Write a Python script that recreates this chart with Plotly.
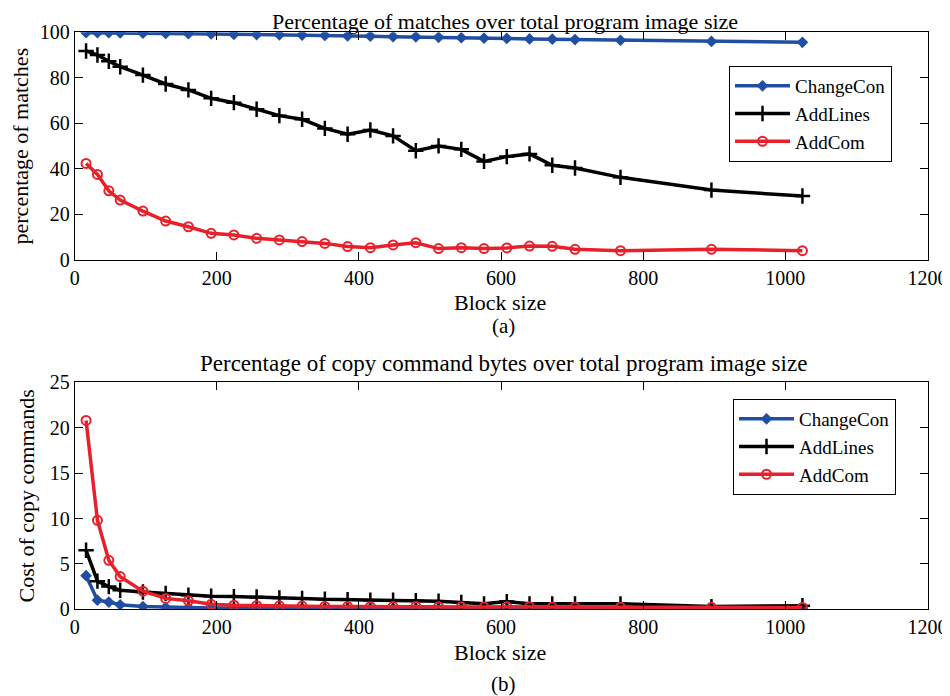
import plotly.graph_objects as go

block_sizes = [16, 32, 48, 64, 96, 128, 160, 192, 224, 256, 288, 320, 352, 384, 416,
               448, 480, 512, 544, 576, 608, 640, 672, 704, 768, 896, 1024]

# (a) Percentage of matches
changecon_match = [99.8, 99.8, 99.8, 99.7, 99.6, 99.5, 99.4, 99.3, 99.1, 99.0, 98.9, 98.8, 98.6, 98.4,
                   98.3, 98.1, 98.0, 97.8, 97.6, 97.4, 97.3, 97.1, 97.0, 96.8, 96.5, 96.0, 95.6]
addlines_match = [91.8, 90.0, 87.3, 84.9, 81.2, 77.3, 74.7, 71.0, 69.1, 66.2, 63.4, 61.8, 57.8, 55.2,
                  57.1, 54.5, 48.0, 50.1, 48.6, 43.3, 45.4, 46.6, 41.6, 40.4, 36.3, 30.7, 28.1]
addcom_match = [42.4, 37.6, 30.4, 26.3, 21.5, 17.1, 14.6, 11.7, 11.0, 9.5, 8.8, 8.1, 7.3, 5.9,
                5.4, 6.6, 7.6, 5.0, 5.4, 5.0, 5.3, 6.1, 6.0, 4.7, 4.1, 4.7, 4.1]

# (b) Cost of copy commands
changecon_cost = [3.7, 1.0, 0.8, 0.5, 0.3, 0.22, 0.18, 0.15, 0.14, 0.13, 0.12, 0.12, 0.11, 0.11,
                  0.1, 0.1, 0.1, 0.1, 0.1, 0.1, 0.1, 0.1, 0.1, 0.1, 0.1, 0.1, 0.1]
addlines_cost = [6.5, 3.1, 2.5, 2.1, 1.9, 1.75, 1.55, 1.45, 1.4, 1.35, 1.25, 1.2, 1.1, 1.05,
                 1.0, 1.0, 0.95, 0.9, 0.75, 0.6, 0.85, 0.6, 0.6, 0.6, 0.6, 0.3, 0.4]
addcom_cost = [20.8, 9.8, 5.4, 3.6, 2.0, 1.2, 0.95, 0.55, 0.45, 0.4, 0.38, 0.35, 0.32, 0.3,
               0.28, 0.3, 0.32, 0.28, 0.27, 0.25, 0.27, 0.28, 0.25, 0.24, 0.23, 0.22, 0.2]

series_names = ["ChangeCon", "AddLines", "AddCom"]
x_ticks = [0, 200, 400, 600, 800, 1000, 1200]

BLUE = "#1f4ea3"
RED = "#e8202a"
BLACK = "#000000"
FONT = "Liberation Serif"

styles = [
    dict(color=BLUE, marker=dict(symbol="diamond", size=9, color=BLUE, line=dict(width=0))),
    dict(color=BLACK, marker=dict(symbol="cross-thin", size=11, color=BLACK, line=dict(width=2.5, color=BLACK))),
    dict(color=RED, marker=dict(symbol="circle-open", size=9, color=RED, line=dict(width=2, color=RED))),
]

fig = go.Figure()
top = [changecon_match, addlines_match, addcom_match]
bot = [changecon_cost, addlines_cost, addcom_cost]
for name, ys, st in zip(series_names, top, styles):
    fig.add_trace(go.Scatter(x=block_sizes, y=ys, name=name, mode="lines+markers",
                             line=dict(color=st["color"], width=3.5), marker=st["marker"],
                             xaxis="x", yaxis="y", legend="legend"))
for name, ys, st in zip(series_names, bot, styles):
    fig.add_trace(go.Scatter(x=block_sizes, y=ys, name=name, mode="lines+markers",
                             line=dict(color=st["color"], width=3.5), marker=st["marker"],
                             xaxis="x2", yaxis="y2", legend="legend2"))

# page has an 8px body margin; figure size and positions account for it
OFF = 8
W, H = 950 - OFF, 696 - OFF


def px(x):
    return (x - OFF) / W


def py(y):
    return 1 - (y - OFF) / H


axis_common = dict(showgrid=False, zeroline=False, showline=True, linecolor="black", linewidth=1,
                   mirror="ticks", ticks="inside", ticklen=8, tickcolor="black", automargin=False,
                   tickfont=dict(family=FONT, size=20, color="black"))
title_font = dict(family=FONT, size=22, color="black")


def label(text, x, y, size):
    return dict(text=text, x=px(x), y=py(y), xref="paper", yref="paper", showarrow=False,
                xanchor="center", yanchor="middle", font=dict(family=FONT, size=size, color="black"))


fig.update_layout(
    width=W, height=H, margin=dict(l=0, r=0, t=0, b=0, autoexpand=False),
    paper_bgcolor="white", plot_bgcolor="white",
    font=dict(family=FONT, size=20, color="black"),
    xaxis=dict(domain=[px(74.7), px(927.5)], range=[0, 1200], tickvals=x_ticks, anchor="y", **axis_common),
    yaxis=dict(domain=[py(260), py(32.3)], range=[0, 100], dtick=20, anchor="x",
               title=dict(text="percentage of matches", font=title_font, standoff=8), **axis_common),
    xaxis2=dict(domain=[px(74.7), px(927.5)], range=[0, 1200], tickvals=x_ticks, anchor="y2", **axis_common),
    yaxis2=dict(domain=[py(609.3), py(382.3)], range=[0, 25], dtick=5, anchor="x2",
                title=dict(text="Cost of copy commands", font=title_font, standoff=8), **axis_common),
    legend=dict(x=px(729), y=py(66), xanchor="left", yanchor="top", bgcolor="white",
                bordercolor="black", borderwidth=1, font=dict(family=FONT, size=19), tracegroupgap=0,
                itemwidth=55),
    legend2=dict(x=px(733), y=py(399), xanchor="left", yanchor="top", bgcolor="white",
                 bordercolor="black", borderwidth=1, font=dict(family=FONT, size=19), tracegroupgap=0,
                 itemwidth=55),
    showlegend=True,
    annotations=[
        label("Percentage of matches over total program image size", 505, 21, 22),
        label("Percentage of copy command bytes over total program image size", 503, 363, 23),
        label("Block size", 500, 302, 22),
        label("Block size", 500, 652, 22),
        label("(a)", 503, 326, 21),
        label("(b)", 503, 684, 21),
    ],
)

fig.write_html("out.html")
